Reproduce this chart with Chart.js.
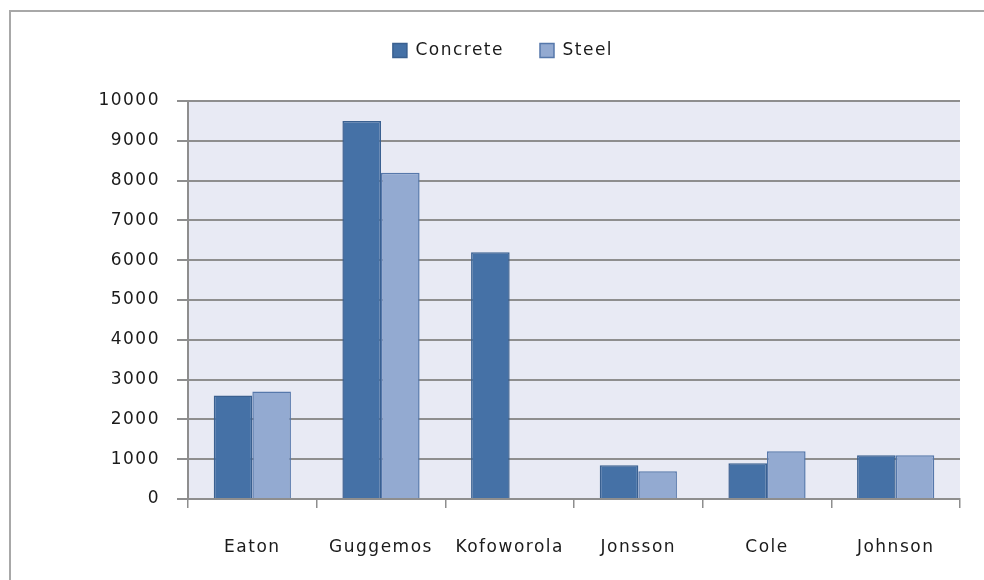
<!DOCTYPE html>
<html>
<head>
<meta charset="utf-8">
<script src="https://cdn.jsdelivr.net/npm/chart.js@4"></script>
<style>
  html, body { margin: 0; padding: 0; background: #fff; }
  #chart { display: block; }
</style>
</head>
<body>
<canvas id="chart" width="984" height="580"></canvas>
<script>
const projects = ['Eaton', 'Guggemos', 'Kofoworola', 'Jonsson', 'Cole', 'Johnson'];
const concrete = [2600, 9500, 6200, 850, 900, 1100];
const steel = [2700, 8200, null, 700, 1200, 1100];
const yTicks = [0, 1000, 2000, 3000, 4000, 5000, 6000, 7000, 8000, 9000, 10000];

const FONT = { family: '"DejaVu Sans", sans-serif', size: 17 };
const INK = '#1b1b1b';
const GRID = '#8e8e8e';

// wider tracking for all canvas text (canvas resets state on resize, so set it each pass)
const tracking = {
    id: 'tracking',
    beforeUpdate(chart) { chart.ctx.letterSpacing = '1.5px'; },
    beforeDraw(chart) { chart.ctx.letterSpacing = '1.5px'; }
};

// plot background + outer frame
const frame = {
    id: 'frame',
    beforeDraw(chart) {
        const { ctx, chartArea: a } = chart;
        ctx.save();
        ctx.strokeStyle = '#a8a8a8';
        ctx.lineWidth = 2;
        ctx.strokeRect(10, 11, 1000, 600);
        ctx.fillStyle = '#e8eaf4';
        ctx.fillRect(a.left, a.top, a.right - a.left, a.bottom - a.top);
        ctx.restore();
    }
};

new Chart(document.getElementById('chart').getContext('2d'), {
    type: 'bar',
    data: {
        labels: projects,
        datasets: [{
            label: 'Concrete',
            data: concrete,
            backgroundColor: '#4571a6',
            borderColor: '#3a6090',
            borderWidth: 1.5,
            borderSkipped: 'bottom'
        }, {
            label: 'Steel',
            data: steel,
            backgroundColor: '#93aad1',
            borderColor: '#5678ab',
            borderWidth: 1.5,
            borderSkipped: 'bottom'
        }]
    },
    options: {
        responsive: false,
        animation: false,
        layout: { padding: { left: 46, right: 24, top: 6, bottom: 0 } },
        categoryPercentage: 0.6,
        barPercentage: 1,
        plugins: {
            legend: {
                position: 'top',
                labels: {
                    font: FONT,
                    color: INK,
                    boxWidth: 14,
                    boxHeight: 14,
                    padding: 36,
                    useBorderRadius: false
                }
            },
            // empty title used as a gap between legend and plot
            title: {
                display: true,
                text: '',
                weight: 500,
                font: { size: 10 },
                padding: { top: 0, bottom: 20 }
            },
            tooltip: { enabled: false }
        },
        scales: {
            x: {
                grid: {
                    offset: true,
                    drawOnChartArea: false,
                    drawTicks: true,
                    tickLength: 9,
                    color: GRID,
                    lineWidth: 1.5
                },
                border: { color: GRID, width: 2 },
                ticks: { font: FONT, color: INK, padding: 29, maxRotation: 0 },
                afterFit(scale) { scale.height = 81; }
            },
            y: {
                min: 0,
                max: 10000,
                afterBuildTicks(scale) {
                    scale.ticks = yTicks.map(v => ({ value: v }));
                },
                grid: {
                    color: GRID,
                    lineWidth: 2,
                    tickLength: 11
                },
                border: { color: GRID, width: 2 },
                ticks: {
                    font: FONT,
                    color: INK,
                    padding: 17,
                    callback: v => String(v)
                },
                afterFit(scale) { scale.width = 142; }
            }
        }
    },
    plugins: [tracking, frame]
});
</script>
</body>
</html>
